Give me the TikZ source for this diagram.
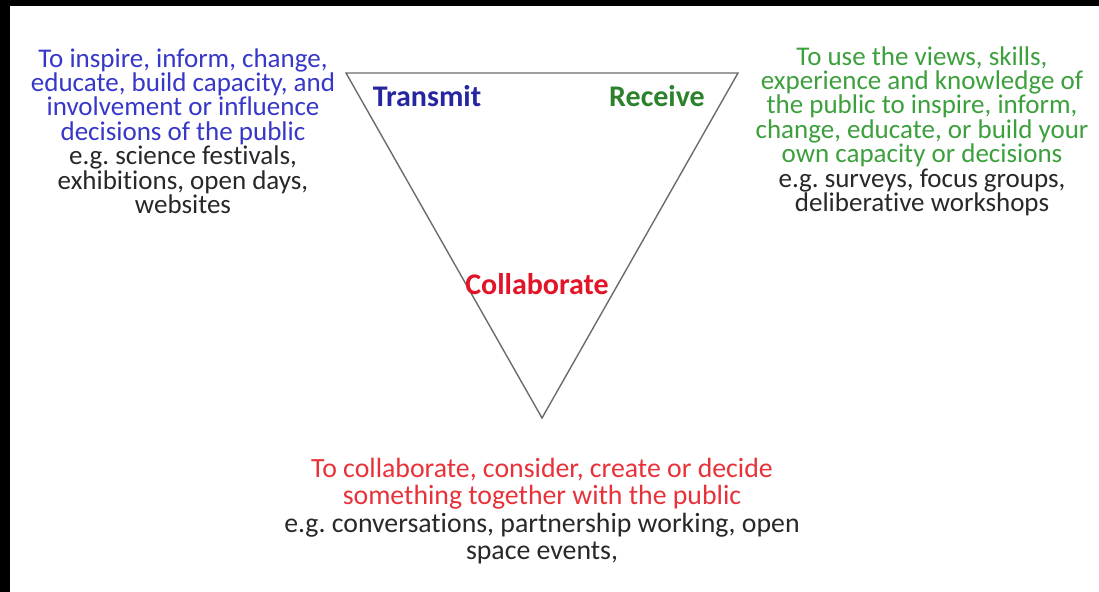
\documentclass[tikz,border=0pt]{standalone}
\usepackage{fontspec}
\setmainfont{Carlito}[Ligatures=CommonOff]
\usetikzlibrary{positioning}
\frenchspacing

\definecolor{txblue}{RGB}{38,38,160}
\definecolor{rxgreen}{RGB}{44,130,44}
\definecolor{colred}{RGB}{226,20,40}
\definecolor{aimblue}{RGB}{55,55,200}
\definecolor{aimgreen}{RGB}{60,160,60}
\definecolor{aimred}{RGB}{232,50,58}
\definecolor{egray}{RGB}{40,40,40}
\newcommand{\eg}[1]{\textcolor{egray}{#1}}

\begin{document}
\begin{tikzpicture}[x=0.5pt,y=-0.5pt,
		every node/.style={inner sep=0pt},
		mode/.style={anchor=base, font=\fontsize{15}{18}\selectfont\bfseries},
		aim/.style={anchor=north, align=center, font=\fontsize{13.5}{12.2}\selectfont}]
	% page and frame
	\useasboundingbox (0,0) rectangle (1099,592);
	\fill[white] (0,0) rectangle (1099,592);
	\fill[black] (0,0) rectangle (1099,6);
	\fill[black] (0,0) rectangle (10,592);

	% the triangle
	\coordinate (tl) at (346,73);
	\coordinate (tr) at (738,73);
	\coordinate (bot) at (542,418);
	\draw[gray!85!black, line width=0.7pt, line join=miter] (tl) -- (tr) -- (bot) -- cycle;

	\node[mode, text=txblue] (transmit) at (427,107) {Transmit};
	\node[mode, text=rxgreen] (receive) at (657,107) {Receive};
	\node[mode, text=colred] (collab) at (537,295) {Collaborate};

	% what each corner is for
	\node[aim, text=aimblue] (transmitaim) at (183,48) {
		To inspire, inform, change,\\
		educate, build capacity, and\\
		involvement or influence\\
		decisions of the public\\
		\eg{e.g. science festivals,}\\
		\eg{exhibitions, open days,}\\
		\eg{websites}};
	\node[aim, text=aimgreen] (receiveaim) at (922,46) {
		To use the views, skills,\\
		experience and knowledge of\\
		the public to inspire, inform,\\
		change, educate, or build your\\
		own capacity or decisions\\
		\eg{e.g. surveys, focus groups,}\\
		\eg{deliberative workshops}};
	\node[aim, text=aimred, font=\fontsize{13.9}{13.6}\selectfont,
		below=20pt of bot] (collabaim) {
		To collaborate, consider, create or decide\\
		something together with the public\\
		\eg{e.g. conversations, partnership working, open}\\
		\eg{space events,}};
\end{tikzpicture}
\end{document}
